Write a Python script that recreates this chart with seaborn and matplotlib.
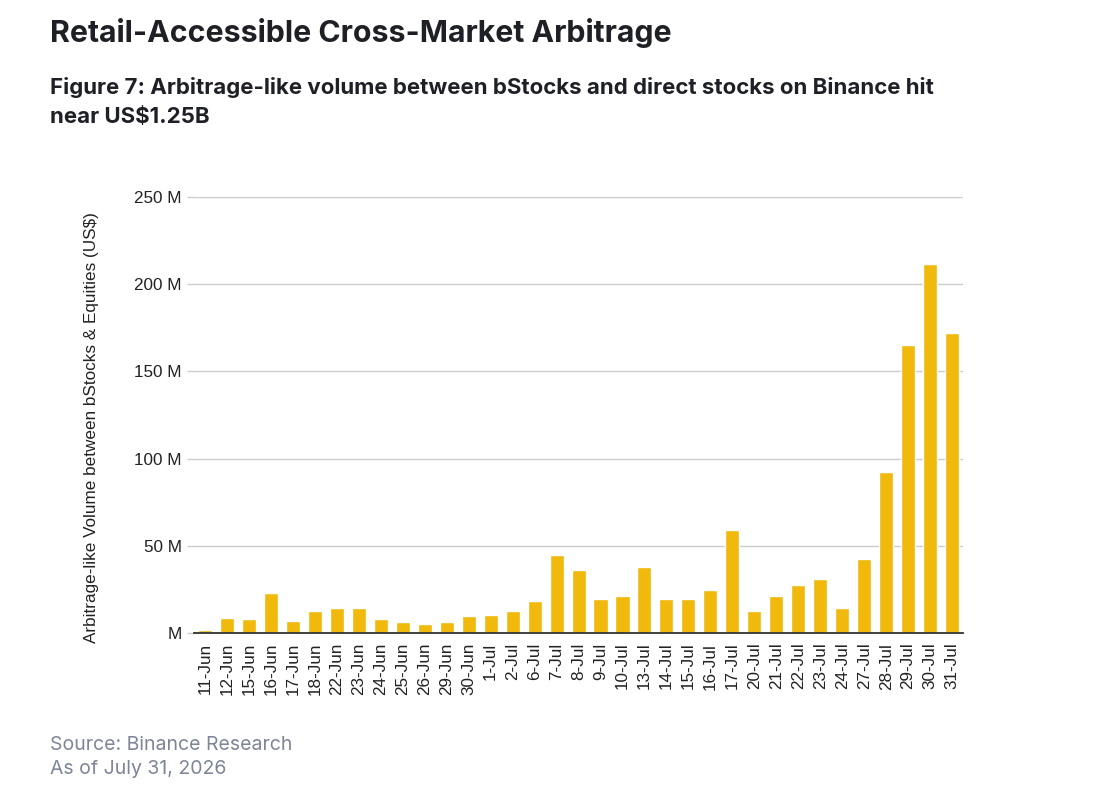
import matplotlib
matplotlib.use("Agg")
import matplotlib.pyplot as plt
import seaborn as sns
import pandas as pd

dates = ["11-Jun", "12-Jun", "15-Jun", "16-Jun", "17-Jun", "18-Jun", "22-Jun", "23-Jun",
         "24-Jun", "25-Jun", "26-Jun", "29-Jun", "30-Jun", "1-Jul", "2-Jul", "6-Jul",
         "7-Jul", "8-Jul", "9-Jul", "10-Jul", "13-Jul", "14-Jul", "15-Jul", "16-Jul",
         "17-Jul", "20-Jul", "21-Jul", "22-Jul", "23-Jul", "24-Jul", "27-Jul", "28-Jul",
         "29-Jul", "30-Jul", "31-Jul"]
volume_musd = [2.0, 8.8, 8.2, 23.1, 7.0, 12.6, 14.1, 14.1,
               8.2, 6.5, 5.3, 6.5, 9.9, 10.5, 12.6, 18.5,
               44.9, 36.3, 19.5, 21.2, 37.8, 19.5, 19.5, 24.6,
               58.8, 12.6, 21.2, 27.3, 31.0, 14.3, 42.4, 92.3,
               165.3, 211.6, 172.0]
ytick_values = [0, 50, 100, 150, 200, 250]
ytick_labels = ["M", "50 M", "100 M", "150 M", "200 M", "250 M"]

sns.set_theme(style="white")
plt.rcParams["font.family"] = ["Liberation Sans", "DejaVu Sans"]

df = pd.DataFrame({"date": dates, "volume": volume_musd})

fig = plt.figure(figsize=(11, 7.9), dpi=100)
ax = fig.add_axes([0.1764, 0.1987, 0.8755 - 0.1764, 0.7506 - 0.1987])

sns.barplot(data=df, x="date", y="volume", color="#F0B90B", saturation=1,
            width=0.64, ax=ax)

ax.set_ylim(0, 250)
ax.set_xlim(-0.5, len(dates) - 0.5)
ax.set_yticks(ytick_values)
ax.set_yticklabels(ytick_labels)
ax.yaxis.grid(True, color="#cccccc", linewidth=1)
ax.set_axisbelow(True)
for s in ["top", "right", "left"]:
    ax.spines[s].set_visible(False)
ax.spines["bottom"].set_color("#333333")
ax.spines["bottom"].set_linewidth(1.3)
ax.spines["bottom"].set_zorder(5)
ax.tick_params(axis="y", length=5, color="#cccccc", width=1, pad=4,
               labelsize=12.3, labelcolor="#222222", left=True)
ax.tick_params(axis="x", length=0, pad=7, labelsize=12.3, labelcolor="#222222",
               rotation=90)
ax.set_xlabel("")
ax.set_ylabel("")

fig.text(92 / 1100, 1 - 428 / 790,
         "Arbitrage-like Volume between bStocks & Equities (US$)",
         rotation=90, ha="center", va="center", fontsize=12.3, color="#222222")

fig.text(50 / 1100, 1 - 33 / 790, "Retail-Accessible Cross-Market Arbitrage",
         family=["Inter", "DejaVu Sans"], fontweight="bold", fontsize=21.8,
         color="#1e2026", ha="left", va="center")
fig.text(50 / 1100, 1 - 88 / 790,
         "Figure 7: Arbitrage-like volume between bStocks and direct stocks on Binance hit",
         family=["Inter", "DejaVu Sans"], fontweight="bold", fontsize=16,
         color="#1e2026", ha="left", va="center")
fig.text(50 / 1100, 1 - 117 / 790, "near US$1.25B",
         family=["Inter", "DejaVu Sans"], fontweight="bold", fontsize=16,
         color="#1e2026", ha="left", va="center")

fig.text(50 / 1100, 1 - 745 / 790, "Source: Binance Research",
         family=["Inter", "DejaVu Sans"], fontsize=14, color="#7d8596",
         ha="left", va="center")
fig.text(50 / 1100, 1 - 769 / 790, "As of July 31, 2026",
         family=["Inter", "DejaVu Sans"], fontsize=14, color="#7d8596",
         ha="left", va="center")

fig.savefig("out.png", dpi=100, facecolor="white")
